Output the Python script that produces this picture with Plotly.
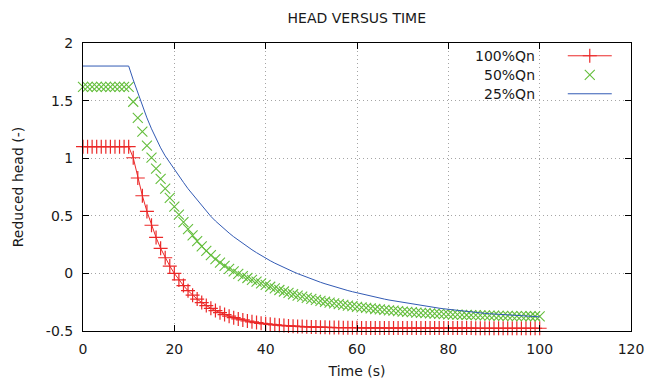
import plotly.graph_objects as go

# time stamps (s), one sample per second
time_s = list(range(0, 101))

# reduced head
head_100 = [1.10] * 11 + [
    1.004, 0.828, 0.674, 0.538, 0.418, 0.312, 0.218, 0.136, 0.064, 0.000,
    -0.057, -0.106, -0.150, -0.189, -0.223, -0.253, -0.279, -0.303, -0.323, -0.341,
    -0.357, -0.371, -0.384, -0.395, -0.404, -0.413, -0.420, -0.427, -0.433, -0.438,
    -0.442, -0.446, -0.450, -0.453, -0.456, -0.458, -0.460, -0.462, -0.464, -0.465,
    -0.466, -0.467, -0.468, -0.469, -0.470, -0.470, -0.471, -0.471, -0.472, -0.472,
    -0.473, -0.473, -0.473, -0.473, -0.473, -0.474, -0.474, -0.474, -0.474, -0.474,
    -0.474, -0.474, -0.475, -0.475, -0.475, -0.475, -0.475, -0.475, -0.475, -0.475,
    -0.475, -0.475, -0.475, -0.475, -0.475, -0.476, -0.476, -0.476, -0.476, -0.476,
    -0.476, -0.476, -0.476, -0.476, -0.476, -0.476, -0.476, -0.476, -0.476, -0.476,
]

head_50 = [1.62] * 11 + [
    1.49, 1.35, 1.23, 1.11, 1.005, 0.91, 0.82, 0.735, 0.655, 0.58,
    0.51, 0.445, 0.385, 0.33, 0.28, 0.235, 0.195, 0.158, 0.124, 0.093,
    0.065, 0.040, 0.017, -0.004, -0.023, -0.040, -0.056, -0.071, -0.086, -0.100,
    -0.116, -0.130, -0.144, -0.157, -0.169, -0.181, -0.192, -0.202, -0.212, -0.221,
    -0.230, -0.238, -0.246, -0.254, -0.261, -0.267, -0.273, -0.279, -0.285, -0.290,
    -0.295, -0.300, -0.304, -0.309, -0.313, -0.317, -0.321, -0.324, -0.328, -0.331,
    -0.334, -0.337, -0.340, -0.342, -0.345, -0.347, -0.349, -0.351, -0.353, -0.355,
    -0.357, -0.358, -0.360, -0.361, -0.362, -0.363, -0.364, -0.365, -0.366, -0.367,
    -0.368, -0.368, -0.369, -0.370, -0.370, -0.371, -0.371, -0.372, -0.372, -0.373,
]

head_25 = [1.80] * 11 + [
    1.68, 1.565, 1.455, 1.35, 1.255, 1.165, 1.09, 1.02, 0.96, 0.90,
    0.845, 0.79, 0.735, 0.685, 0.635, 0.59, 0.54, 0.495, 0.455, 0.417,
    0.383, 0.350, 0.318, 0.288, 0.260, 0.232, 0.205, 0.180, 0.155, 0.132,
    0.110, 0.089, 0.069, 0.050, 0.032, 0.015, -0.002, -0.018, -0.034, -0.049,
    -0.063, -0.077, -0.090, -0.103, -0.115, -0.127, -0.138, -0.149, -0.159, -0.169,
    -0.179, -0.189, -0.198, -0.207, -0.215, -0.223, -0.231, -0.238, -0.245, -0.252,
    -0.259, -0.266, -0.273, -0.279, -0.285, -0.291, -0.297, -0.302, -0.307, -0.312,
    -0.317, -0.322, -0.327, -0.331, -0.335, -0.339, -0.343, -0.347, -0.350, -0.353,
    -0.356, -0.359, -0.361, -0.364, -0.366, -0.368, -0.371, -0.373, -0.375, -0.377,
]

series_names = ["100%Qn", "50%Qn", "25%Qn"]

x_ticks = [0, 20, 40, 60, 80, 100, 120]
y_ticks = [-0.5, 0, 0.5, 1, 1.5, 2]
y_tick_labels = ["-0.5", "0", "0.5", "1", "1.5", "2"]

RED = "rgb(235,40,40)"
GREEN = "rgb(100,190,60)"
BLUE = "rgb(50,90,180)"
TEXT = "rgb(25,25,25)"
FONT = "DejaVu Sans"

# the page body keeps its default 8px margin, so the figure is drawn
# 8px smaller and the left/top margins shrink by the same amount
PAGE_PAD = 8

fig = go.Figure()

# legend entries carry no text: gnuplot puts the label left of the sample,
# so the labels are added as right-aligned annotations further down
fig.add_trace(go.Scatter(
    x=time_s, y=head_100, name="", mode="lines+markers",
    line=dict(color=RED, width=1),
    marker=dict(symbol="cross-thin", size=10, line=dict(color=RED, width=1.2)),
    cliponaxis=False,
))
fig.add_trace(go.Scatter(
    x=time_s, y=head_50, name="", mode="markers",
    marker=dict(symbol="x-thin", size=10, line=dict(color=GREEN, width=1.1)),
    cliponaxis=False,
))
fig.add_trace(go.Scatter(
    x=time_s, y=head_25, name="", mode="lines",
    line=dict(color=BLUE, width=1),
))

axis_style = dict(
    showline=True, linecolor="black", linewidth=1, mirror="ticks",
    ticks="inside", ticklen=6, tickcolor="black",
    showgrid=True, gridcolor="rgb(165,165,165)", griddash="1px,3px", gridwidth=1,
    zeroline=False, automargin=False,
    tickfont=dict(family=FONT, size=14, color=TEXT),
)

fig.update_xaxes(
    range=[0, 120], tickvals=x_ticks, ticklabelstandoff=5,
    title=dict(text="Time (s)", font=dict(family=FONT, size=14, color=TEXT), standoff=10),
    **axis_style,
)
fig.update_yaxes(
    range=[-0.5, 2], tickvals=y_ticks, ticktext=y_tick_labels, ticklabelstandoff=6,
    title=dict(text="Reduced head (-)", font=dict(family=FONT, size=14, color=TEXT), standoff=18),
    **axis_style,
)

legend_rows = [0.956, 0.890, 0.824]
for name, row in zip(series_names, legend_rows):
    fig.add_annotation(
        text=name, xref="paper", yref="paper", x=0.829, y=row,
        xanchor="right", yanchor="middle", showarrow=False,
        font=dict(family=FONT, size=14, color=TEXT),
    )

fig.update_layout(
    width=660 - PAGE_PAD, height=380 - PAGE_PAD,
    margin=dict(l=83 - PAGE_PAD, r=29, t=43 - PAGE_PAD, b=49),
    paper_bgcolor="white", plot_bgcolor="white",
    font=dict(family=FONT, size=14, color=TEXT),
    title=dict(text="HEAD VERSUS TIME", x=0.535, xanchor="center",
               y=0.973, yanchor="middle", automargin=False,
               font=dict(family=FONT, size=14, color=TEXT)),
    legend=dict(x=0.8755, xanchor="left", y=1.006, yanchor="top",
                bgcolor="rgba(0,0,0,0)", font=dict(family=FONT, size=11),
                itemwidth=44, tracegroupgap=0),
    showlegend=True,
)

fig.write_html("out.html")
